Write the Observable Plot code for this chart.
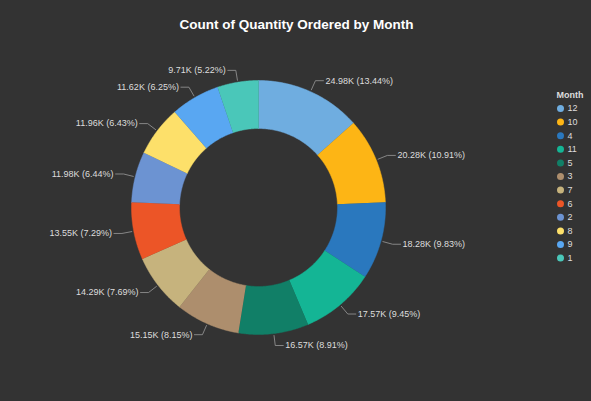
<!DOCTYPE html>
<html>
<head>
<meta charset="utf-8">
<script src="https://cdn.jsdelivr.net/npm/d3@7"></script>
<script src="https://cdn.jsdelivr.net/npm/@observablehq/plot@0.6"></script>
<style>
  body { margin: 0; background: #333333; }
</style>
</head>
<body>
<div id="chart"></div>
<script>
// datos
const months = ["12", "10", "4", "11", "5", "3", "7", "6", "2", "8", "9", "1"]
const quantities = [24.98, 20.28, 18.28, 17.57, 16.57, 15.15, 14.29, 13.55, 11.98, 11.96, 11.62, 9.71]
const percents = [13.44, 10.91, 9.83, 9.45, 8.91, 8.15, 7.69, 7.29, 6.44, 6.43, 6.25, 5.22]
const colors = ["#6FADE0", "#FDB515", "#2A78BE", "#14B595", "#117F67", "#AD8E6D", "#C6B37D", "#EC5527", "#6C93D2", "#FDE06A", "#59A7F2", "#4AC7B9"]

const cx = 258, cy = 207, rOut = 127, rIn = 79
const data = months.map((m, i) => ({month: m, value: quantities[i], pct: percents[i], color: colors[i]}))
const arcs = d3.pie().sort(null).value(d => d.value)(data)

// poligonos de cada porcion
const pts = []
arcs.forEach(a => {
  const n = 60
  for (let k = 0; k <= n; k++) {
    const t = a.startAngle + (a.endAngle - a.startAngle) * k / n
    pts.push({month: a.data.month, color: a.data.color, x: cx + rOut * Math.sin(t), y: cy - rOut * Math.cos(t)})
  }
  for (let k = n; k >= 0; k--) {
    const t = a.startAngle + (a.endAngle - a.startAngle) * k / n
    pts.push({month: a.data.month, color: a.data.color, x: cx + rIn * Math.sin(t), y: cy - rIn * Math.cos(t)})
  }
})

// etiquetas con lineas guia
const labels = arcs.map(a => {
  const m = (a.startAngle + a.endAngle) / 2
  const s = Math.sin(m), c = Math.cos(m)
  const right = s >= 0
  const x1 = cx + (rOut + 2) * s, y1 = cy - (rOut + 2) * c
  const x2 = cx + (rOut + 12) * s, y2 = cy - (rOut + 12) * c
  const x3 = x2 + (right ? 8 : -8)
  return {x1, y1, x2, y2, x3, right,
    text: a.data.value.toFixed(2) + "K (" + a.data.pct.toFixed(2) + "%)"}
})
const leader = []
labels.forEach((l, i) => {
  leader.push({i, x: l.x1, y: l.y1}, {i, x: l.x2, y: l.y2}, {i, x: l.x3, y: l.y2})
})

const legend = months.map((m, i) => ({month: m, color: colors[i], x: 560, y: 108 + i * 13.6}))

let chart = Plot.plot({
  width: 591,
  height: 401,
  margin: 0,
  style: {background: "#333333", fontFamily: "'Liberation Sans', Arial, sans-serif"},
  x: {domain: [0, 591], axis: null},
  y: {domain: [401, 0], axis: null},
  color: {type: "identity"},
  marks: [
    Plot.line(pts, {x: "x", y: "y", z: "month", fill: "color", stroke: "color", strokeWidth: 0.5}),
    Plot.line(leader, {x: "x", y: "y", z: "i", stroke: "#9a9a9a", strokeWidth: 0.8}),
    Plot.text(labels.filter(d => d.right), {x: d => d.x3 + 2, y: "y2", text: "text", textAnchor: "start", fill: "#dddddd", fontSize: 9}),
    Plot.text(labels.filter(d => !d.right), {x: d => d.x3 - 2, y: "y2", text: "text", textAnchor: "end", fill: "#dddddd", fontSize: 9}),
    Plot.text(["Count of Quantity Ordered by Month"], {x: 296, y: 24, fill: "white", fontSize: 13.5, fontWeight: "bold"}),
    Plot.text(["Month"], {x: 556, y: 95, textAnchor: "start", fill: "#dddddd", fontSize: 9, fontWeight: "bold"}),
    Plot.dot(legend, {x: "x", y: "y", r: 3.5, fill: "color"}),
    Plot.text(legend, {x: d => d.x + 7, y: "y", text: "month", textAnchor: "start", fill: "#dddddd", fontSize: 9})
  ]
})
d3.select('#chart').append(() => chart)
</script>
</body>
</html>
